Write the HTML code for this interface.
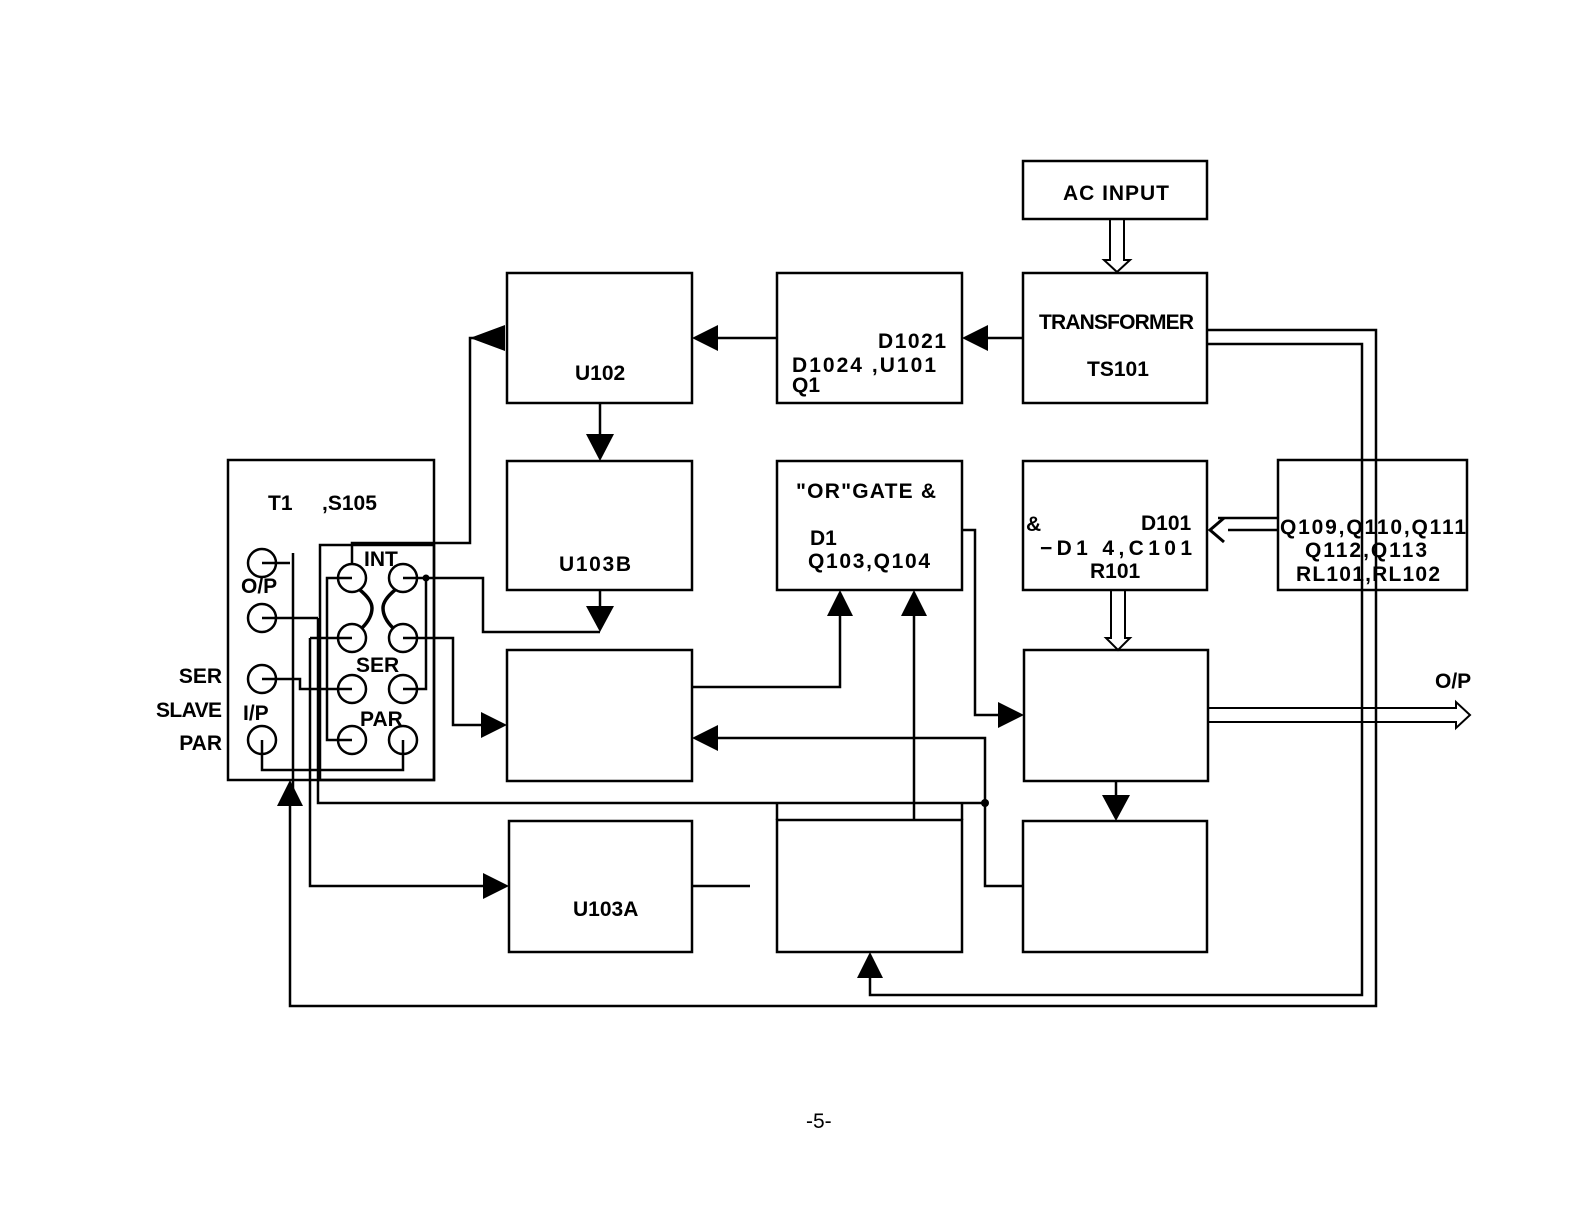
<!DOCTYPE html>
<html><head><meta charset="utf-8"><style>html,body{margin:0;padding:0;background:#fff}svg{display:block}text{font-family:"Liberation Sans",sans-serif;font-weight:bold;font-size:21px;fill:#000}</style></head><body>
<svg width="1582" height="1224" viewBox="0 0 1582 1224" xmlns="http://www.w3.org/2000/svg">
<g fill="none" stroke="#000" stroke-width="2.5">
<rect x="1023" y="161" width="184" height="58"/>
<rect x="1023" y="273" width="184" height="130"/>
<rect x="777" y="273" width="185" height="130"/>
<rect x="507" y="273" width="185" height="130"/>
<rect x="507" y="461" width="185" height="129"/>
<rect x="228" y="460" width="206" height="320"/>
<rect x="320" y="545" width="114" height="235"/>
<rect x="777" y="461" width="185" height="129"/>
<rect x="1023" y="461" width="184" height="129"/>
<rect x="1278" y="460" width="189" height="130"/>
<rect x="507" y="650" width="185" height="131"/>
<rect x="1024" y="650" width="184" height="131"/>
<rect x="509" y="821" width="183" height="131"/>
<rect x="777" y="820" width="185" height="132"/>
<rect x="1023" y="821" width="184" height="131"/>
<path d="M1110 219 V260 H1104 L1117 272 L1130 260 H1124 V219" stroke-width="2"/>
<path d="M1111 590 V638 H1106 L1118 650 L1130 638 H1125 V590" stroke-width="2"/>
<path d="M1208 708 H1456 V702 L1470 715 L1456 728 V722 H1208" stroke-width="2"/>
<line x1="1023" y1="338" x2="975" y2="338"/>
<line x1="777" y1="338" x2="705" y2="338"/>
<path d="M482 338 H470 V543 H352 V565"/>
<line x1="600" y1="403" x2="600" y2="440"/>
<line x1="600" y1="590" x2="600" y2="612"/>
<path d="M426 578 H483 V632 H600"/>
<path d="M692 687 H840 V612"/>
<line x1="914" y1="820" x2="914" y2="612"/>
<path d="M962 530 H975 V715 H1004"/>
<line x1="1116" y1="781" x2="1116" y2="800"/>
<path d="M1207 330 H1376 V1006 H290 V800"/>
<path d="M1207 344 H1362 V995 H870 V975"/>
<path d="M705 738 H985 V886 H1024"/>
<line x1="692" y1="886" x2="750" y2="886"/>
<path d="M310 638 V886 H488"/>
<path d="M318 618 V803 H985"/>
<path d="M777 803 V820 M962 803 V820"/>
<path d="M403 638 H453 V725 H486"/>
<path d="M1278 518 H1218 M1278 530 H1228"/>
<path d="M1224 518 L1210 530 L1224 542" stroke-width="3"/>
<path d="M262 563 H290 M293 553 V800"/>
<path d="M262 618 H318"/>
<path d="M262 679 H300 V689 H352"/>
<path d="M262 740 V770 H403 V740"/>
<path d="M352 578 H327 V740 H352"/>
<path d="M352 638 H310"/>
<path d="M403 578 H426 V689 H403"/>
<path d="M360 590 Q372 600 372 608 Q372 618 362 628" stroke-width="3.5"/>
<path d="M395 590 Q383 600 383 608 Q383 618 393 628" stroke-width="3.5"/>
<circle cx="262" cy="563" r="14"/><circle cx="262" cy="618" r="14"/>
<circle cx="262" cy="679" r="14"/><circle cx="262" cy="740" r="14"/>
<circle cx="352" cy="578" r="14"/><circle cx="403" cy="578" r="14"/>
<circle cx="352" cy="638" r="14"/><circle cx="403" cy="638" r="14"/>
<circle cx="352" cy="689" r="14"/><circle cx="403" cy="689" r="14"/>
<circle cx="352" cy="740" r="14"/><circle cx="403" cy="740" r="14"/>
</g>
<g fill="#000">
<polygon points="962,338 988,325 988,351"/>
<polygon points="692,338 718,325 718,351"/>
<polygon points="470,338 505,325 505,351"/>
<polygon points="600,461 586,434 614,434"/>
<polygon points="600,632 586,606 614,606"/>
<polygon points="840,590 827,616 853,616"/>
<polygon points="914,590 901,616 927,616"/>
<polygon points="1024,715 998,702 998,728"/>
<polygon points="1116,821 1102,795 1130,795"/>
<polygon points="290,780 277,806 303,806"/>
<polygon points="870,952 857,978 883,978"/>
<polygon points="692,738 718,725 718,751"/>
<polygon points="509,886 483,873 483,899"/>
<polygon points="507,725 481,712 481,738"/>
<circle cx="426" cy="578" r="3.5"/>
<circle cx="985" cy="803" r="4"/>
</g>
<text x="1063" y="200" textLength="106">AC  INPUT</text>
<text x="1039" y="329" textLength="155">TRANSFORMER</text>
<text x="1087" y="376">TS101</text>
<text x="878" y="348" textLength="68">D1021</text>
<text x="792" y="372" textLength="144">D1024 ,U101</text>
<text x="792" y="392">Q1</text>
<text x="575" y="380">U102</text>
<text x="559" y="571" textLength="72">U103B</text>
<text x="268" y="510">T1</text>
<text x="322" y="510">,S105</text>
<text x="364" y="566" font-size="19">INT</text>
<text x="241" y="593">O/P</text>
<text x="356" y="672" font-size="19">SER</text>
<text x="360" y="726" font-size="19">PAR</text>
<text x="222" y="683" text-anchor="end">SER</text>
<text x="222" y="717" text-anchor="end" textLength="66">SLAVE</text>
<text x="243" y="720">I/P</text>
<text x="222" y="750" text-anchor="end">PAR</text>
<text x="796" y="498" textLength="140">"OR"GATE  &amp;</text>
<text x="810" y="545">D1</text>
<text x="808" y="568" textLength="122">Q103,Q104</text>
<text x="1026" y="531" font-size="18">&amp;</text>
<text x="1141" y="530">D101</text>
<text x="1040" y="555" textLength="152">−D1    4,C101</text>
<text x="1090" y="578">R101</text>
<text x="1280" y="534" textLength="186">Q109,Q110,Q111</text>
<text x="1305" y="557" textLength="122">Q112,Q113</text>
<text x="1296" y="581" textLength="144">RL101,RL102</text>
<text x="1435" y="688">O/P</text>
<text x="573" y="916">U103A</text>
<text x="806" y="1128" style="font-weight:normal" font-size="24">-5-</text>
</svg>
</body></html>
